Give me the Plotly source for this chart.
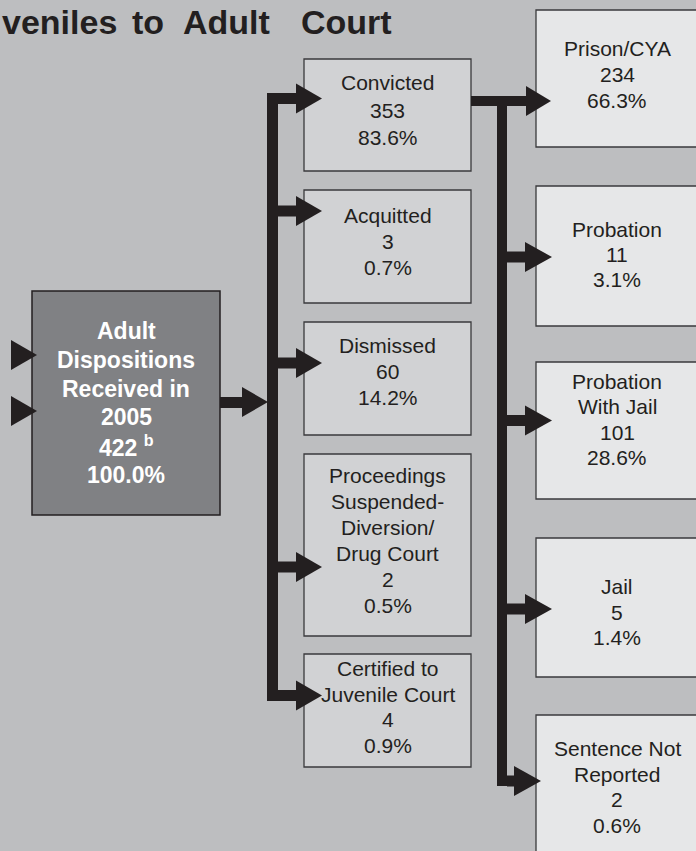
import plotly.graph_objects as go

# ---------------- data ----------------
title_text = "veniles to Adult Court"
total_year = 2005
total_count = 422
total_pct = 100.0

outcome_labels = [["Convicted"], ["Acquitted"], ["Dismissed"],
                  ["Proceedings", "Suspended-", "Diversion/", "Drug Court"],
                  ["Certified to", "Juvenile Court"]]
outcome_counts = [353, 3, 60, 2, 4]
outcome_pcts = [83.6, 0.7, 14.2, 0.5, 0.9]

sentence_labels = [["Prison/CYA"], ["Probation"], ["Probation", "With Jail"],
                   ["Jail"], ["Sentence Not", "Reported"]]
sentence_counts = [234, 11, 101, 5, 2]
sentence_pcts = [66.3, 3.1, 28.6, 1.4, 0.6]

# ---------------- layout geometry (pixels) ----------------
W, H = 696, 851
BG = "#bdbec0"
INK = "#231f20"
FONT = "Liberation Sans, Arial, sans-serif"

title_word_x = [0, 130, 181, 299]
title_cy = 21.5

main_box = (32, 220, 291, 515)
main_text_cy, main_spacing = 403, 28.8

mid_x = (304, 471)
mid_y = [(59, 171), (190, 303), (322, 435), (454, 636), (654, 767)]
mid_arrow_y = [98.5, 211, 363, 567, 695.5]
mid_text_cy = [110, 241.5, 371.5, 540, 707]
mid_spacing = [27.5, 26, 26, 26, 25.7]

right_x = (536, 698)
right_y = [(10, 147), (186, 326), (362, 499), (538, 677), (715, 870)]
right_arrow_y = [101, 257, 420.5, 609, 781]
right_head_x = [(526, 551), (525, 552), (525, 552), (525, 552), (514, 541)]
right_text_cy = [74.5, 254.5, 419.5, 612, 787]
right_spacing = [26, 25, 25.3, 25.5, 25.7]

SHAFT = 11
HEAD_H = 15

shapes = []
annotations = []


def rect(x0, x1, y0, y1, fill, line_color=None, lw=0):
    shapes.append(dict(type="rect", xref="x", yref="y", x0=x0, x1=x1, y0=y0, y1=y1,
                       fillcolor=fill, line=dict(color=line_color or fill, width=lw),
                       layer="above"))


def head(xb, xt, yc, hh=HEAD_H):
    shapes.append(dict(type="path", xref="x", yref="y",
                       path=f"M {xb},{yc - hh} L {xt},{yc} L {xb},{yc + hh} Z",
                       fillcolor=INK, line=dict(width=0), layer="above"))


def text_block(lines, cx, cy, spacing, size, color, bold=False):
    n = len(lines)
    for i, ln in enumerate(lines):
        y = cy + (i - (n - 1) / 2) * spacing
        t = f"<b>{ln}</b>" if bold else ln
        annotations.append(dict(x=cx, y=y, xref="x", yref="y", text=t, showarrow=False,
                                xanchor="center", yanchor="middle",
                                font=dict(family=FONT, size=size, color=color)))


# boxes
rect(main_box[0], main_box[1], main_box[2], main_box[3], "#808184", INK, 1.5)
for (y0, y1) in mid_y:
    rect(mid_x[0], mid_x[1], y0, y1, "#d1d2d4", "#3a3a3c", 1.3)
for (y0, y1) in right_y:
    rect(right_x[0], right_x[1], y0, y1, "#e6e7e8", "#3a3a3c", 1.3)

# connectors: incoming heads on the main box
for yc in [355, 411]:
    head(11, 37, yc)
# main -> left bar
rect(main_box[1], 242, 402.5 - SHAFT / 2, 402.5 + SHAFT / 2, INK)
head(242, 268, 402)
# left bar
rect(267, 278, mid_arrow_y[0] - SHAFT / 2, mid_arrow_y[-1] + SHAFT / 2, INK)
for yc in mid_arrow_y:
    rect(278, 297, yc - SHAFT / 2, yc + SHAFT / 2, INK)
    head(296, 322, yc)
# convicted -> right bar
rect(mid_x[1], 527, right_arrow_y[0] - 5, right_arrow_y[0] + 5, INK)
rect(497, 507, right_arrow_y[0] - 5, right_arrow_y[-1] + 5, INK)
for i, yc in enumerate(right_arrow_y):
    xb, xt = right_head_x[i]
    if i > 0:
        rect(507, xb + 1, yc - 5.5, yc + 5.5, INK)
    head(xb, xt, yc)

# title, word by word to match the wide tracking
for word, wx in zip(title_text.split(" "), title_word_x):
    annotations.append(dict(x=wx, y=title_cy, xref="x", yref="y", text=f"<b>{word}</b>",
                            showarrow=False, xanchor="left", yanchor="middle",
                            font=dict(family=FONT, size=34, color=INK)))

main_lines = ["Adult", "Dispositions", "Received in", str(total_year),
              f"{total_count} <sup>b</sup>", f"{total_pct:.1f}%"]
text_block(main_lines, (main_box[0] + main_box[1]) / 2, main_text_cy, main_spacing,
           23, "#ffffff", bold=True)

mid_cx = (mid_x[0] + mid_x[1]) / 2
for i in range(len(outcome_labels)):
    lines = outcome_labels[i] + [str(outcome_counts[i]), f"{outcome_pcts[i]:.1f}%"]
    text_block(lines, mid_cx, mid_text_cy[i], mid_spacing[i], 21, INK)

right_cx = 617
for i in range(len(sentence_labels)):
    lines = sentence_labels[i] + [str(sentence_counts[i]), f"{sentence_pcts[i]:.1f}%"]
    text_block(lines, right_cx, right_text_cy[i], right_spacing[i], 21, INK)

fig = go.Figure()
fig.update_layout(
    width=W, height=H, margin=dict(l=0, r=0, t=0, b=0, pad=0),
    paper_bgcolor=BG, plot_bgcolor=BG,
    xaxis=dict(range=[0, W], visible=False, fixedrange=True),
    yaxis=dict(range=[H, 0], visible=False, fixedrange=True),
    shapes=shapes, annotations=annotations, showlegend=False,
)

fig.write_html("out.html", config={"displayModeBar": False},
               post_script="document.body.style.margin='0';document.body.style.overflow='hidden';")
